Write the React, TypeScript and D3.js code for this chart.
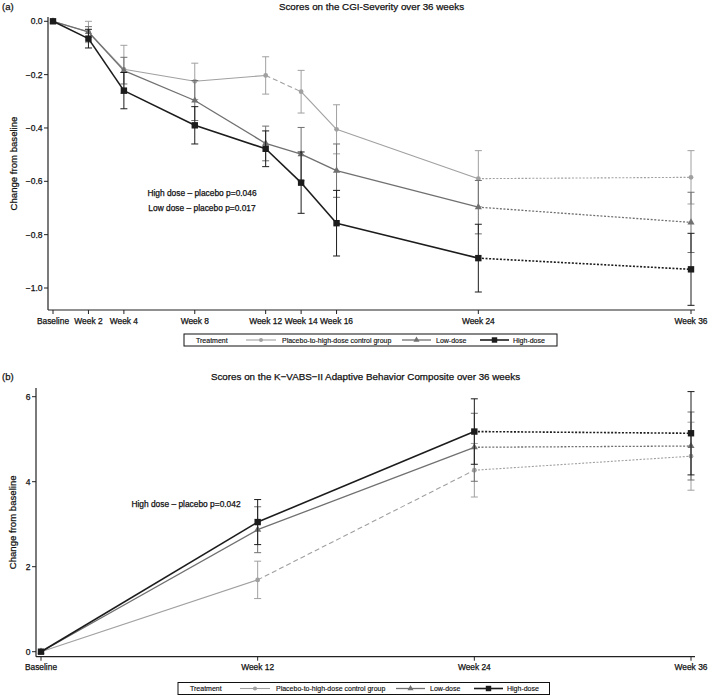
import React from "react";
import * as d3 from "d3";

// ---------- Panel (a) data: CGI-Severity ----------
const weeksA = [0, 2, 4, 8, 12, 14, 16, 24, 36];
const weekLabelsA = ["Baseline", "Week 2", "Week 4", "Week 8", "Week 12", "Week 14", "Week 16", "Week 24", "Week 36"];
const yTicksA = [0, -0.2, -0.4, -0.6, -0.8, -1.0];
const placeboA = [0, -0.04, -0.18, -0.225, -0.203, -0.264, -0.405, -0.59, -0.585];
const placeboSeA = [0, 0.04, 0.09, 0.068, 0.07, 0.08, 0.092, 0.105, 0.1];
const lowA = [0, -0.04, -0.185, -0.297, -0.458, -0.498, -0.56, -0.697, -0.754];
const lowSeA = [0, 0.02, 0.05, 0.075, 0.065, 0.1, 0.1, 0.1, 0.113];
const highA = [0, -0.065, -0.26, -0.39, -0.478, -0.605, -0.757, -0.888, -0.93];
const highSeA = [0, 0.035, 0.068, 0.07, 0.067, 0.115, 0.123, 0.127, 0.135];
const placeboStylesA = ["solid", "solid", "solid", "solid", "dash", "solid", "solid", "dot"];
const doseStylesA = ["solid", "solid", "solid", "solid", "solid", "solid", "solid", "dot"];

// ---------- Panel (b) data: K-VABS-II ----------
const weeksB = [0, 12, 24, 36];
const weekLabelsB = ["Baseline", "Week 12", "Week 24", "Week 36"];
const yTicksB = [0, 2, 4, 6];
const placeboB = [0, 1.69, 4.27, 4.6];
const placeboSeB = [0, 0.44, 0.63, 0.8];
const lowB = [0, 2.87, 4.81, 4.84];
const lowSeB = [0, 0.54, 0.8, 0.8];
const highB = [0, 3.05, 5.18, 5.14];
const highSeB = [0, 0.53, 0.77, 0.98];
const placeboStylesB = ["solid", "dash", "dot"];
const doseStylesB = ["solid", "solid", "dot"];

const legendTitle = "Treatment";
const seriesNames = ["Placebo-to-high-dose control group", "Low-dose", "High-dose"];

const FONT = "'Liberation Sans', Arial, Helvetica, sans-serif";
const COLORS = ["#a0a0a0", "#707070", "#1c1c1c"];
const WIDTHS = [1.1, 1.3, 1.6];
const SHAPES = ["circle", "triangle", "square"];
const TXT = { fill: "#111", stroke: "#111", strokeWidth: 0.25 };

function dashFor(style: string) {
  if (style === "dash") return "5,3";
  if (style === "dot") return "2,1.6";
  return undefined;
}

function Marker({ shape, x, y, color, scale = 1 }: any) {
  if (shape === "circle") return <circle cx={x} cy={y} r={2.4 * scale} fill={color} />;
  if (shape === "triangle") {
    const p = d3.symbol().type(d3.symbolTriangle).size(22 * scale * scale)();
    return <path d={p as string} transform={`translate(${x},${y})`} fill={color} />;
  }
  const s = 6.4 * scale;
  return <rect x={x - s / 2} y={y - s / 2} width={s} height={s} fill={color} />;
}

function Series({ weeks, vals, se, styles, x, y, idx }: any) {
  const color = COLORS[idx];
  const pts = weeks.map((w: number, i: number) => [x(w), y(vals[i])]);
  const cap = 3.5;
  return (
    <g>
      {weeks.map((w: number, i: number) =>
        se[i] > 0 ? (
          <g key={"e" + i} stroke={color} strokeWidth={1}>
            <line x1={x(w)} x2={x(w)} y1={y(vals[i] + se[i])} y2={y(vals[i] - se[i])} />
            <line x1={x(w) - cap} x2={x(w) + cap} y1={y(vals[i] + se[i])} y2={y(vals[i] + se[i])} />
            <line x1={x(w) - cap} x2={x(w) + cap} y1={y(vals[i] - se[i])} y2={y(vals[i] - se[i])} />
          </g>
        ) : null
      )}
      {styles.map((st: string, i: number) => (
        <path
          key={"s" + i}
          d={d3.line()([pts[i], pts[i + 1]] as any) as string}
          stroke={color}
          strokeWidth={WIDTHS[idx]}
          strokeDasharray={dashFor(st)}
          fill="none"
        />
      ))}
      {pts.map((p: number[], i: number) => (
        <Marker key={"m" + i} shape={SHAPES[idx]} x={p[0]} y={p[1]} color={color} />
      ))}
    </g>
  );
}

function Legend({ left, top, width }: any) {
  const h = 12;
  const cy = top + h / 2;
  const items = [
    { l0: 62, l1: 92, t: 98 },
    { l0: 218, l1: 247, t: 252 },
    { l0: 296, l1: 325, t: 329 },
  ];
  return (
    <g fontFamily={FONT} fontSize={7}>
      <rect x={left} y={top} width={width} height={h} fill="white" stroke="#111" strokeWidth={1} />
      <text x={left + 12} y={cy + 2.5} {...TXT} strokeWidth={0.15}>{legendTitle}</text>
      {items.map((it, i) => (
        <g key={i}>
          <line x1={left + it.l0} x2={left + it.l1} y1={cy} y2={cy} stroke={COLORS[i]} strokeWidth={WIDTHS[i]} />
          <Marker shape={SHAPES[i]} x={left + (it.l0 + it.l1) / 2} y={cy} color={COLORS[i]} scale={0.85} />
          <text x={left + it.t} y={cy + 2.5} {...TXT} strokeWidth={0.15}>{seriesNames[i]}</text>
        </g>
      ))}
    </g>
  );
}

function Panel({ cfg }: any) {
  const { x, y, yTicks, weeks, labels, axisL, axisR, axisT, axisB, tickFmt, letter, title, titleY, labelY, notes, legend, data } = cfg;
  return (
    <g>
      <text x={2} y={titleY} fontFamily={FONT} fontSize={9.5} {...TXT}>{letter}</text>
      <text x={(axisL + axisR) / 2} y={titleY} textAnchor="middle" fontFamily={FONT} fontSize={9.8} {...TXT}>{title}</text>
      {/* axes */}
      <line x1={axisL} x2={axisL} y1={axisT} y2={axisB} stroke="#222" strokeWidth={1.2} />
      <line x1={axisL} x2={axisR} y1={axisB} y2={axisB} stroke="#222" strokeWidth={1.2} />
      {yTicks.map((t: number) => (
        <g key={"y" + t}>
          <line x1={axisL - 4} x2={axisL} y1={y(t)} y2={y(t)} stroke="#222" />
          <text x={axisL - 5.5} y={y(t) + 3} textAnchor="end" fontFamily={FONT} fontSize={8.5} {...TXT}>{tickFmt(t)}</text>
        </g>
      ))}
      {weeks.map((w: number, i: number) => (
        <g key={"x" + w}>
          <line x1={x(w)} x2={x(w)} y1={axisB} y2={axisB + 4} stroke="#222" />
          <text x={x(w)} y={axisB + 13.5} textAnchor="middle" fontFamily={FONT} fontSize={8.4} {...TXT}>{labels[i]}</text>
        </g>
      ))}
      <text
        transform={`translate(${labelY.x},${(axisT + axisB) / 2}) rotate(-90)`}
        textAnchor="middle"
        fontFamily={FONT}
        fontSize={9.6}
        {...TXT}
      >
        Change from baseline
      </text>
      {notes.map((n: any, i: number) => (
        <text key={i} x={n.x} y={n.y} textAnchor="middle" fontFamily={FONT} fontSize={8.4} {...TXT}>{n.t}</text>
      ))}
      {data.map((s: any, i: number) => (
        <Series key={i} weeks={weeks} vals={s.v} se={s.se} styles={s.st} x={x} y={y} idx={i} />
      ))}
      <Legend left={legend.left} top={legend.top} width={legend.width} />
    </g>
  );
}

export default function App() {
  const xA = d3.scaleLinear().domain([0, 36]).range([53, 691]);
  const yA = d3.scaleLinear().domain([0, -1]).range([21.3, 288]);
  const xB = d3.scaleLinear().domain([0, 36]).range([41, 691]);
  const yB = d3.scaleLinear().domain([0, 6]).range([651.7, 396.7]);
  const fmtA = (t: number) => (t === 0 ? "0.0" : "\u2212" + d3.format(".1f")(Math.abs(t)));
  const fmtB = (t: number) => String(t);

  const cfgA = {
    x: xA, y: yA, yTicks: yTicksA, weeks: weeksA, labels: weekLabelsA,
    axisL: 48, axisR: 695, axisT: 17, axisB: 310, tickFmt: fmtA,
    letter: "(a)", title: "Scores on the CGI-Severity over 36 weeks", titleY: 10,
    labelY: { x: 17 },
    notes: [
      { x: 202, y: 196, t: "High dose \u2013 placebo p=0.046" },
      { x: 202, y: 210.5, t: "Low dose \u2013 placebo p=0.017" },
    ],
    legend: { left: 184, top: 334, width: 373 },
    data: [
      { v: placeboA, se: placeboSeA, st: placeboStylesA },
      { v: lowA, se: lowSeA, st: doseStylesA },
      { v: highA, se: highSeA, st: doseStylesA },
    ],
  };
  const cfgB = {
    x: xB, y: yB, yTicks: yTicksB, weeks: weeksB, labels: weekLabelsB,
    axisL: 36, axisR: 695, axisT: 388, axisB: 656.7, tickFmt: fmtB,
    letter: "(b)", title: "Scores on the K\u2212VABS\u2212II Adaptive Behavior Composite over 36 weeks", titleY: 380,
    labelY: { x: 16 },
    notes: [{ x: 186, y: 507, t: "High dose \u2013 placebo p=0.042" }],
    legend: { left: 178, top: 682.5, width: 371.5 },
    data: [
      { v: placeboB, se: placeboSeB, st: placeboStylesB },
      { v: lowB, se: lowSeB, st: doseStylesB },
      { v: highB, se: highSeB, st: doseStylesB },
    ],
  };

  return (
    <svg
      width={709}
      height={696}
      viewBox="0 0 709 696"
      style={{ position: "absolute", left: 0, top: 0, background: "white" }}
    >
      <rect width={709} height={696} fill="white" />
      <Panel cfg={cfgA} />
      <Panel cfg={cfgB} />
    </svg>
  );
}
